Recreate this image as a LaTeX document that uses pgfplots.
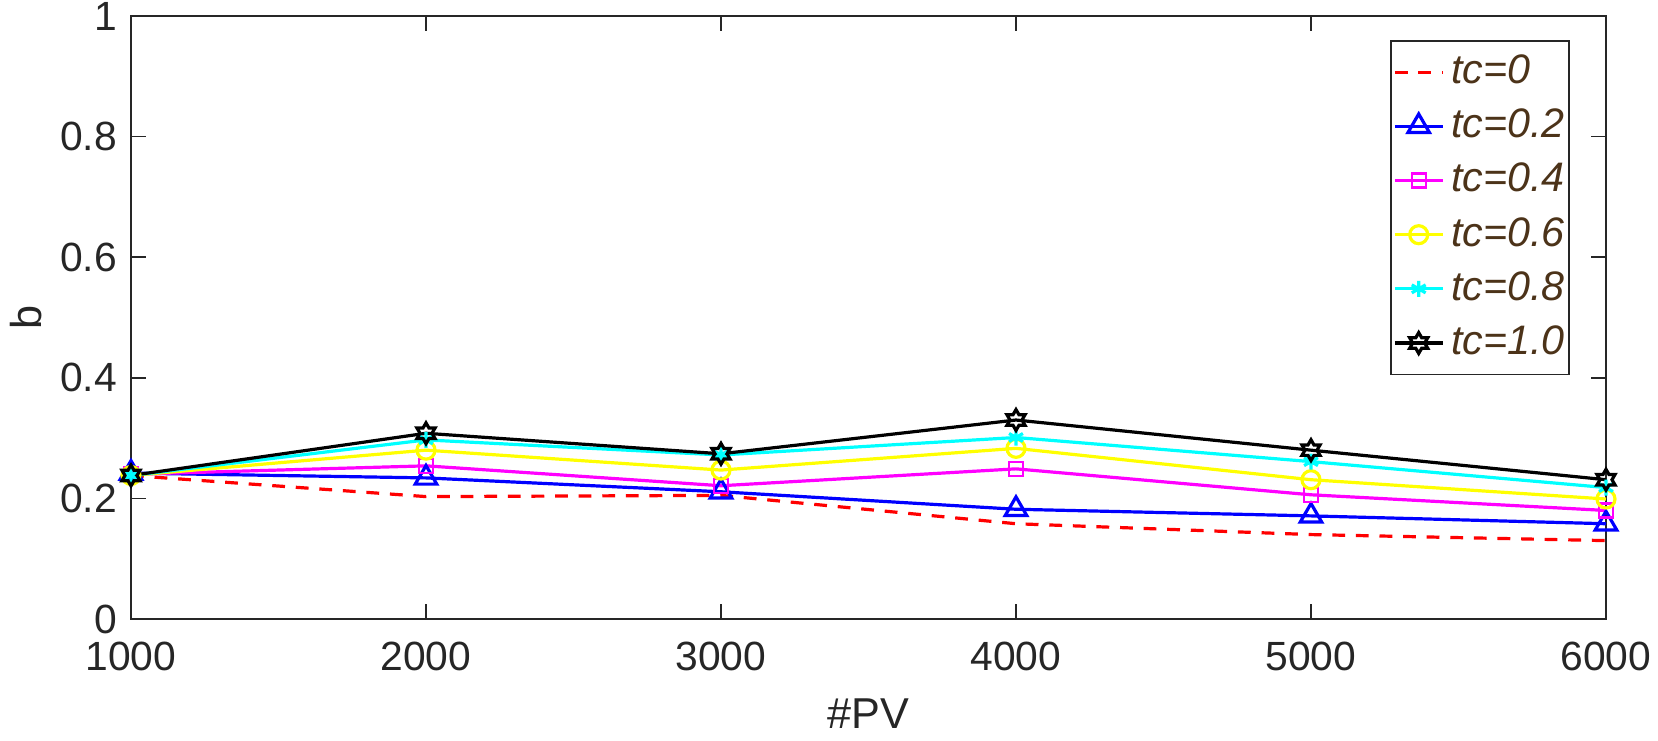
\documentclass[border=0pt]{standalone}
\usepackage{pgfplots}
\pgfplotsset{compat=1.18}
\usepackage{fontspec}
\setmainfont{Liberation Sans}
\definecolor{axgray}{rgb}{0.15,0.15,0.15}
\definecolor{legbrown}{rgb}{0.30,0.20,0.10}
\definecolor{mred}{rgb}{1,0,0}
\definecolor{mblue}{rgb}{0,0,1}
\definecolor{mmag}{rgb}{1,0,1}
\definecolor{myel}{rgb}{1,1,0}
\definecolor{mcyan}{rgb}{0,1,1}
\pgfdeclareplotmark{hexagram}{%
  \pgfpathmoveto{\pgfpointpolar{90}{\pgfplotmarksize}}%
  \pgfpathlineto{\pgfpointpolar{120}{0.57735\pgfplotmarksize}}%
  \pgfpathlineto{\pgfpointpolar{150}{\pgfplotmarksize}}%
  \pgfpathlineto{\pgfpointpolar{180}{0.57735\pgfplotmarksize}}%
  \pgfpathlineto{\pgfpointpolar{210}{\pgfplotmarksize}}%
  \pgfpathlineto{\pgfpointpolar{240}{0.57735\pgfplotmarksize}}%
  \pgfpathlineto{\pgfpointpolar{270}{\pgfplotmarksize}}%
  \pgfpathlineto{\pgfpointpolar{300}{0.57735\pgfplotmarksize}}%
  \pgfpathlineto{\pgfpointpolar{330}{\pgfplotmarksize}}%
  \pgfpathlineto{\pgfpointpolar{0}{0.57735\pgfplotmarksize}}%
  \pgfpathlineto{\pgfpointpolar{30}{\pgfplotmarksize}}%
  \pgfpathlineto{\pgfpointpolar{60}{0.57735\pgfplotmarksize}}%
  \pgfpathclose
  \pgfusepathqstroke
}
\begin{document}
\begin{tikzpicture}
\begin{axis}[
  scale only axis,
  width=368.75pt, height=150.75pt,
  xmin=1000, xmax=6000, ymin=0, ymax=1,
  xtick={1000,2000,3000,4000,5000,6000},
  ytick={0,0.2,0.4,0.6,0.8,1},
  yticklabels={0,0.2,0.4,0.6,0.8,1},
  scaled x ticks=false,
  /pgf/number format/1000 sep={},
  /pgf/number format/assume math mode=true,
  tick align=inside,
  major tick length=3.7pt,
  axis line style={axgray, line width=0.4pt},
  tick style={axgray, line width=0.4pt},
  tick label style={font=\fontsize{10.2}{12}\selectfont, text=axgray},
  xticklabel style={yshift=-2.3pt},
  label style={font=\fontsize{10.8}{13}\selectfont, text=axgray},
  xlabel={\#PV},
  ylabel={b},
  xlabel style={at={(axis description cs:0.5,-0.1566)}, anchor=center},
  ylabel style={at={(axis description cs:-0.0712,0.5)}, anchor=center},
  legend style={at={(1,1)}, anchor=north east, xshift=-9pt, yshift=-6pt,
    draw=axgray, line width=0.4pt, font=\itshape\fontsize{10.3}{12.4}\selectfont,
    text=legbrown, inner xsep=0.6pt, inner ysep=1.5pt,
    nodes={inner xsep=0.6pt},
    column sep=1.1pt,
    row sep=0.85pt},
  legend cell align=left,
  legend image code/.code={\draw[mark repeat=2,mark phase=2] plot coordinates {(0cm,0cm)(0.21cm,0cm)(0.42cm,0cm)};},
  every axis plot/.append style={line width=0.8pt},
]
\coordinate (sw) at (rel axis cs:0,0);
\coordinate (ne) at (rel axis cs:1,1);
\addplot[mred, dash pattern=on 3.2pt off 2.7pt, mark=none] coordinates {
 (1000,0.238) (2000,0.203) (3000,0.205) (4000,0.158) (5000,0.140) (6000,0.130)};
\addlegendentry{tc=0}
\addplot[mblue, mark=triangle, mark size=3.1pt, mark options={solid}] coordinates {
 (1000,0.242) (2000,0.234) (3000,0.211) (4000,0.182) (5000,0.171) (6000,0.158)};
\addlegendentry{tc=0.2}
\addplot[mmag, mark=square, mark size=1.75pt, mark options={solid, line width=0.6pt}] coordinates {
 (1000,0.240) (2000,0.254) (3000,0.221) (4000,0.249) (5000,0.206) (6000,0.180)};
\addlegendentry{tc=0.4}
\addplot[myel, mark=o, mark size=2.25pt] coordinates {
 (1000,0.238) (2000,0.280) (3000,0.247) (4000,0.283) (5000,0.231) (6000,0.199)};
\addlegendentry{tc=0.6}
\addplot[mcyan, mark=asterisk, mark size=2pt] coordinates {
 (1000,0.238) (2000,0.297) (3000,0.272) (4000,0.301) (5000,0.261) (6000,0.218)};
\addlegendentry{tc=0.8}
\addplot[black, mark=hexagram, mark size=2.6pt] coordinates {
 (1000,0.238) (2000,0.308) (3000,0.274) (4000,0.330) (5000,0.280) (6000,0.231)};
\addlegendentry{tc=1.0}
\end{axis}
\pgfresetboundingbox
\path[use as bounding box] ([shift={(-32.75pt,-30.25pt)}]sw) rectangle ([shift={(13pt,4pt)}]ne);
\end{tikzpicture}
\end{document}
